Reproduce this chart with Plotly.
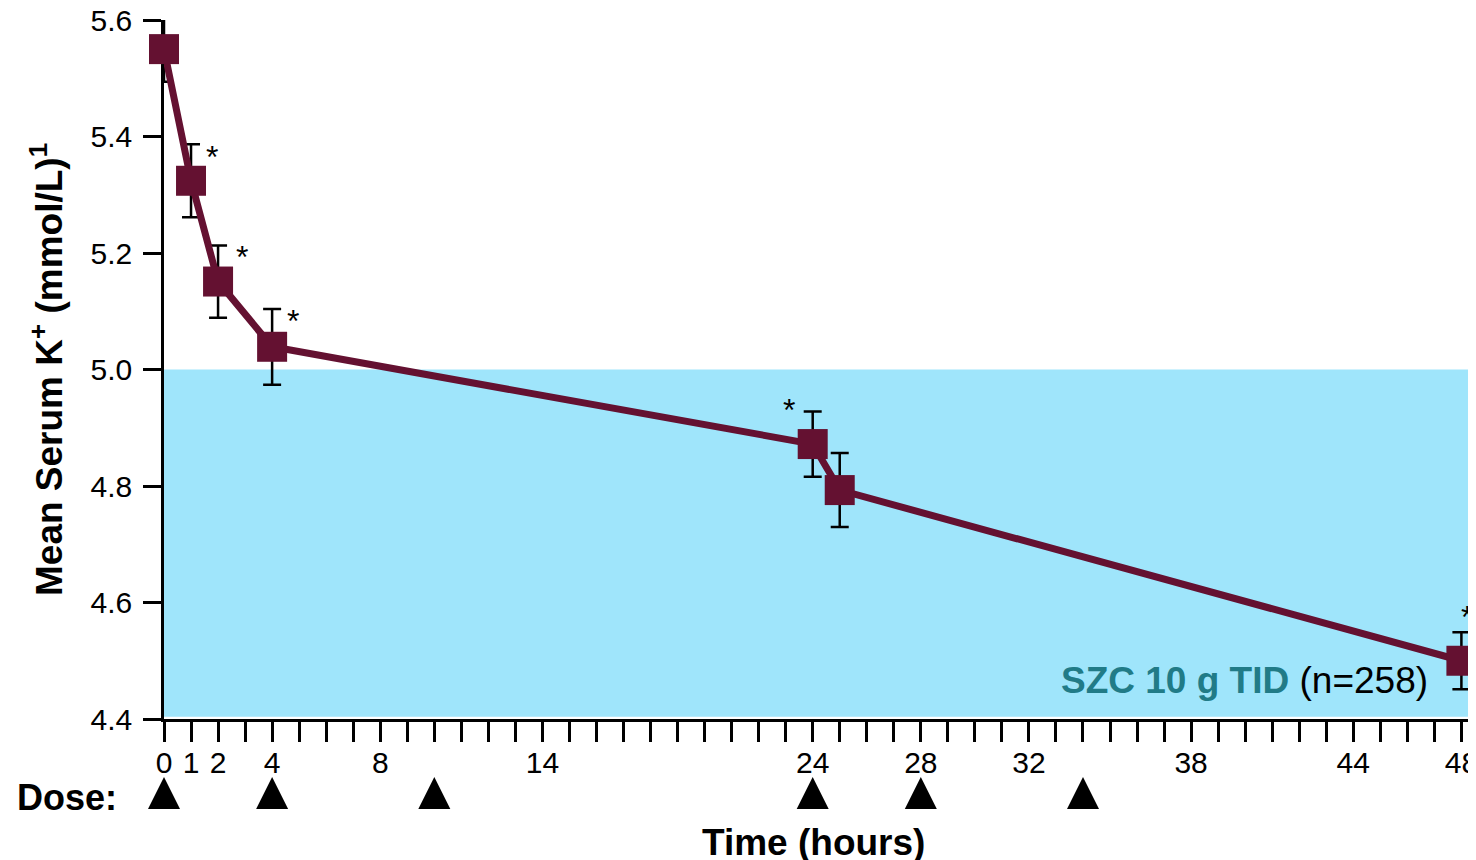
import plotly.graph_objects as go

# ---- data ----
time_h = [0, 1, 2, 4, 24, 25, 48]
mean_k = [5.55, 5.324, 5.151, 5.039, 4.872, 4.793, 4.50]
err_k = [0.056, 0.0625, 0.062, 0.065, 0.056, 0.0635, 0.049]
sig_times = [1, 2, 4, 24, 48]
dose_times = [0, 4, 10, 24, 28, 34]
x_tick_vals = list(range(0, 49))
x_tick_labels = [0, 1, 2, 4, 8, 14, 24, 28, 32, 38, 44, 48]
y_tick_vals = [4.4, 4.6, 4.8, 5.0, 5.2, 5.4, 5.6]
normal_upper = 5.0
Y_MIN, Y_MAX = 4.4, 5.6
X_MIN, X_MAX = 0, 48.54

LINE_COLOR = "#641131"
BLUE = "#9fe5fb"
TEAL = "#217b87"
FONT = "Liberation Sans, Arial, sans-serif"

fig = go.Figure()

fig.add_shape(type="rect", xref="x domain", yref="y", x0=0, x1=1,
              y0=Y_MIN + 0.004, y1=normal_upper, fillcolor=BLUE,
              line=dict(width=0), layer="below")

fig.add_trace(go.Scatter(
    x=time_h, y=mean_k, mode="lines+markers",
    line=dict(color=LINE_COLOR, width=7),
    marker=dict(symbol="square", size=30, color=LINE_COLOR),
    error_y=dict(type="data", array=err_k, visible=True,
                 color="black", thickness=2.5, width=9),
    cliponaxis=False, showlegend=False, hoverinfo="x+y"))

# dose markers in a row below the axis
fig.add_trace(go.Scatter(
    x=dose_times, y=[0.5] * len(dose_times), xaxis="x", yaxis="y2",
    mode="markers",
    marker=dict(symbol="arrow-up", size=32, color="black", line=dict(width=0)),
    cliponaxis=False, showlegend=False, hoverinfo="x"))

# significance asterisks
star_shift = {1: (21, 24), 2: (24, 25), 4: (21, 26), 24: (-24, 34), 48: (6, 44)}
for t in sig_times:
    i = time_h.index(t)
    dx, dy = star_shift[t]
    fig.add_annotation(x=t, y=mean_k[i], text="*", showarrow=False,
                       xshift=dx, yshift=dy,
                       font=dict(size=32, color="black", family=FONT))

ticktext = [str(v) if v in x_tick_labels else "" for v in x_tick_vals]

fig.update_layout(
    width=1468, height=852,
    margin=dict(l=156, r=0, t=12, b=0, autoexpand=False),
    paper_bgcolor="white", plot_bgcolor="white",
    font=dict(family=FONT, size=30, color="black"),
    xaxis=dict(range=[X_MIN, X_MAX], tickmode="array", tickvals=x_tick_vals,
               ticktext=ticktext, ticks="outside", ticklen=20, tickwidth=2.5,
               tickcolor="black", showline=True, linecolor="black", linewidth=3,
               showgrid=False, zeroline=False, tickfont=dict(size=30),
               ticklabelstandoff=-5, ticklabeloverflow="allow", anchor="y"),
    yaxis=dict(domain=[0.16786, 1], range=[Y_MIN, Y_MAX], tickmode="array",
               tickvals=y_tick_vals,
               ticktext=[f"{v:.1f}" for v in y_tick_vals],
               ticks="outside", ticklen=18, tickwidth=2.5, tickcolor="black",
               showline=True, linecolor="black", linewidth=2.5,
               showgrid=False, zeroline=False, tickfont=dict(size=30),
               ticklabelstandoff=5, ticklabeloverflow="allow",
               layer="below traces"),
    yaxis2=dict(domain=[0.0488, 0.1488], range=[0, 1], visible=False,
                anchor="x", fixedrange=True),
)

fig.add_annotation(xref="paper", yref="paper", x=-0.0892, y=0.5845,
                   text="<b>Mean Serum K<sup>+</sup> (mmol/L)<sup>1</sup></b>",
                   textangle=-90, showarrow=False, xanchor="center", yanchor="middle",
                   font=dict(size=37, family=FONT, color="black"))
fig.add_annotation(xref="paper", yref="paper", x=-0.1136, y=0.0744,
                   text="<b>Dose:</b>", showarrow=False, xanchor="left", yanchor="middle",
                   font=dict(size=36, family=FONT, color="black"))
fig.add_annotation(xref="paper", yref="paper", x=0.4947, y=0.0214,
                   text="<b>Time (hours)</b>", showarrow=False, xanchor="center", yanchor="middle",
                   font=dict(size=37, family=FONT, color="black"))
fig.add_annotation(xref="paper", yref="paper", x=0.965, y=0.2131,
                   text=f"<b><span style='color:{TEAL}'>SZC 10 g TID</span></b> (n=258)",
                   showarrow=False, xanchor="right", yanchor="middle",
                   font=dict(size=37, family=FONT, color="black"))

fig.write_html("out.html")
